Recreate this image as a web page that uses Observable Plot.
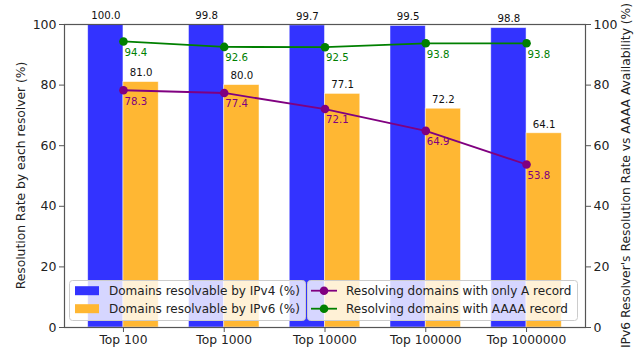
<!DOCTYPE html>
<html>
<head>
<meta charset="utf-8">
<script src="https://cdn.jsdelivr.net/npm/d3@7"></script>
<script src="https://cdn.jsdelivr.net/npm/@observablehq/plot@0.6"></script>
<style>
  html, body { margin: 0; padding: 0; background: #fff; }
  #chart { width: 638px; height: 354px; }
</style>
</head>
<body>
<div id="chart"></div>
<script>
const categories = ["Top 100", "Top 1000", "Top 10000", "Top 100000", "Top 1000000"];
const ipv4Rate = [100.0, 99.8, 99.7, 99.5, 98.8];
const ipv6Rate = [81.0, 80.0, 77.1, 72.2, 64.1];
const onlyARate = [78.3, 77.4, 72.1, 64.9, 53.8];
const aaaaRate = [94.4, 92.6, 92.5, 93.8, 93.8];
const yTicks = [0, 20, 40, 60, 80, 100];

const seriesNames = {
  ipv4: "Domains resolvable by IPv4 (%)",
  ipv6: "Domains resolvable by IPv6 (%)",
  onlyA: "Resolving domains with only A record",
  aaaa: "Resolving domains with AAAA record"
};
const leftLabel = "Resolution Rate by each resolver (%)";
const rightLabel = "IPv6 Resolver's Resolution Rate vs AAAA Availability (%)";

const BLUE = "#3333ff", ORANGE = "#ffb733", PURPLE = "#800080", GREEN = "#008000", AXIS = "#555";

const rows = categories.map((c, i) => ({
  i, cat: c, ipv4: ipv4Rate[i], ipv6: ipv6Rate[i], onlyA: onlyARate[i], aaaa: aaaaRate[i]
}));

const W = 0.35;
const fmt = v => v.toFixed(1);

const chart = Plot.plot({
  width: 638,
  height: 354,
  marginLeft: 64,
  marginRight: 53,
  marginTop: 24,
  marginBottom: 27,
  style: { fontFamily: "DejaVu Sans, sans-serif", fontSize: "12px", background: "white", color: "#222" },
  x: { type: "linear", domain: [-0.585, categories.length - 1 + 0.585] },
  y: { domain: [0, 100] },
  marks: [
    Plot.rectY(rows, { x1: d => d.i - W, x2: d => d.i, y1: 0, y2: "ipv4", fill: BLUE, stroke: "white", strokeOpacity: 0.6, strokeWidth: 0.8, inset: 0 }),
    Plot.rectY(rows, { x1: d => d.i, x2: d => d.i + W, y1: 0, y2: "ipv6", fill: ORANGE, stroke: "white", strokeOpacity: 0.6, strokeWidth: 0.8, inset: 0 }),
    Plot.text(rows, { x: d => d.i - W / 2, y: "ipv4", text: d => fmt(d.ipv4), dy: -9, fontSize: 10.2, fill: "#111" }),
    Plot.text(rows, { x: d => d.i + W / 2, y: "ipv6", text: d => fmt(d.ipv6), dy: -9, fontSize: 10.2, fill: "#111" }),
    Plot.line(rows, { x: "i", y: "onlyA", stroke: PURPLE, strokeWidth: 1.8 }),
    Plot.dot(rows, { x: "i", y: "onlyA", fill: PURPLE, r: 4.3 }),
    Plot.line(rows, { x: "i", y: "aaaa", stroke: GREEN, strokeWidth: 1.8 }),
    Plot.dot(rows, { x: "i", y: "aaaa", fill: GREEN, r: 4.3 }),
    Plot.text(rows, { x: "i", y: "onlyA", text: d => fmt(d.onlyA), dy: 11, dx: 1, textAnchor: "start", fontSize: 10.2, fill: PURPLE }),
    Plot.text(rows, { x: "i", y: "aaaa", text: d => fmt(d.aaaa), dy: 11, dx: 1, textAnchor: "start", fontSize: 10.2, fill: GREEN }),
    Plot.axisY({ anchor: "left", ticks: yTicks, tickSize: 5, tickPadding: 3, label: null, stroke: AXIS, color: "#222", fontSize: 12.5 }),
    Plot.axisY({ anchor: "right", ticks: yTicks, tickSize: 5, tickPadding: 3, label: null, stroke: AXIS, color: "#222", fontSize: 12.5 }),
    Plot.axisX({ anchor: "bottom", ticks: d3.range(categories.length), tickFormat: i => categories[i], tickSize: 5, tickPadding: 3, label: null, stroke: AXIS, color: "#222", fontSize: 12.3 }),
    Plot.frame({ stroke: AXIS, strokeWidth: 1.2 })
  ]
});

document.getElementById("chart").appendChild(chart);

// Axis titles and legends, overlaid on the SVG
const svg = d3.select(chart);
const plotTop = 24, plotBottom = 354 - 27, midY = (plotTop + plotBottom) / 2;

svg.append("text")
  .attr("transform", `translate(21,${midY}) rotate(-90)`)
  .attr("text-anchor", "middle").attr("dominant-baseline", "central")
  .attr("font-size", 12.3).attr("fill", "#222").text(leftLabel);
svg.append("text")
  .attr("transform", `translate(626,${midY}) rotate(-90)`)
  .attr("text-anchor", "middle").attr("dominant-baseline", "central")
  .attr("font-size", 12.3).attr("fill", "#222").text(rightLabel);

const lg = svg.append("g").attr("font-size", 12).attr("fill", "#222").attr("text-anchor", "start");
// left legend
lg.append("rect").attr("x", 69.5).attr("y", 280.5).attr("width", 236).attr("height", 40).attr("rx", 3)
  .attr("fill", "white").attr("fill-opacity", 0.8).attr("stroke", "#ccc");
[[seriesNames.ipv4, BLUE], [seriesNames.ipv6, ORANGE]].forEach(([t, c], k) => {
  const cy = 290.7 + k * 18;
  lg.append("rect").attr("x", 75).attr("y", cy - 4.5).attr("width", 24).attr("height", 9).attr("fill", c);
  lg.append("text").attr("x", 109).attr("y", cy).attr("text-anchor", "start").attr("dominant-baseline", "central").text(t);
});
// right legend
lg.append("rect").attr("x", 307.5).attr("y", 280.5).attr("width", 270).attr("height", 40).attr("rx", 3)
  .attr("fill", "white").attr("fill-opacity", 0.8).attr("stroke", "#ccc");
[[seriesNames.onlyA, PURPLE], [seriesNames.aaaa, GREEN]].forEach(([t, c], k) => {
  const cy = 290.7 + k * 18;
  lg.append("line").attr("x1", 311).attr("x2", 337).attr("y1", cy).attr("y2", cy).attr("stroke", c).attr("stroke-width", 1.8);
  lg.append("circle").attr("cx", 324).attr("cy", cy).attr("r", 4.3).attr("fill", c);
  lg.append("text").attr("x", 346).attr("y", cy).attr("text-anchor", "start").attr("dominant-baseline", "central").text(t);
});
</script>
</body>
</html>
